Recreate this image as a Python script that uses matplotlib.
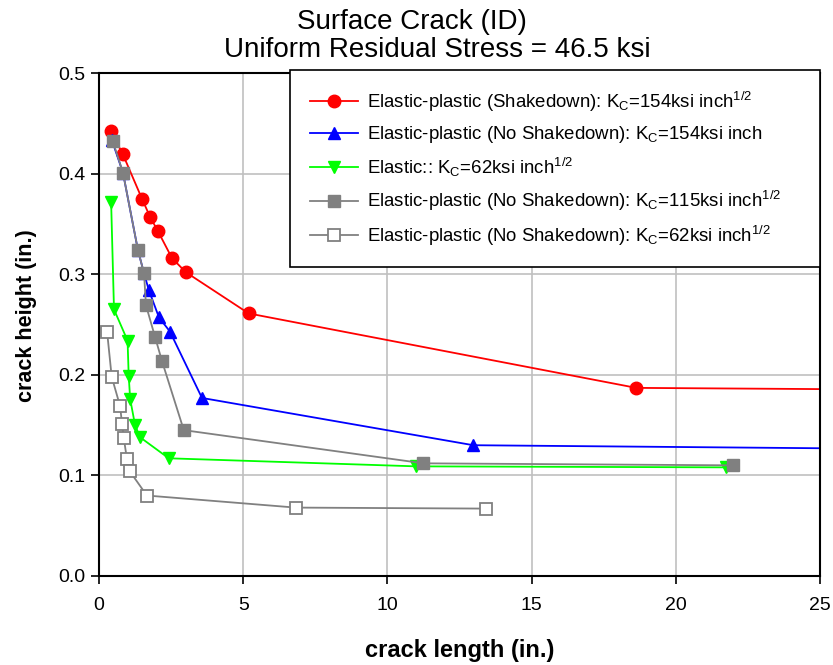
import matplotlib
matplotlib.use('Agg')
import matplotlib.pyplot as plt

plt.rcParams['font.family'] = ['Liberation Sans', 'DejaVu Sans']
plt.rcParams['mathtext.fontset'] = 'custom'
plt.rcParams['mathtext.rm'] = 'Liberation Sans'
plt.rcParams['mathtext.it'] = 'Liberation Sans'

# crack length (in.) / crack height (in.) per series
red_x = [0.42, 0.83, 1.49, 1.77, 2.04, 2.53, 3.01, 5.19, 18.63, 45.0]
red_y = [0.442, 0.419, 0.375, 0.357, 0.343, 0.316, 0.302, 0.261, 0.187, 0.182]

blue_x = [0.45, 0.83, 1.35, 1.56, 1.73, 2.08, 2.46, 3.57, 12.98, 45.0]
blue_y = [0.433, 0.401, 0.324, 0.301, 0.284, 0.257, 0.243, 0.177, 0.130, 0.122]

green_x = [0.42, 0.52, 0.99, 1.03, 1.08, 1.25, 1.42, 2.42, 10.98, 21.75]
green_y = [0.372, 0.265, 0.234, 0.199, 0.176, 0.150, 0.138, 0.117, 0.109, 0.108]

gray_x = [0.48, 0.83, 1.35, 1.56, 1.63, 1.94, 2.18, 2.94, 11.25, 22.0]
gray_y = [0.432, 0.401, 0.324, 0.301, 0.269, 0.238, 0.214, 0.145, 0.112, 0.110]

white_x = [0.28, 0.44, 0.73, 0.80, 0.86, 0.97, 1.07, 1.66, 6.82, 13.43]
white_y = [0.243, 0.198, 0.169, 0.151, 0.137, 0.116, 0.104, 0.080, 0.068, 0.067]

labels = [
    r'Elastic-plastic (Shakedown): K$_\mathrm{C}$=154ksi inch$^{1/2}$',
    r'Elastic-plastic (No Shakedown): K$_\mathrm{C}$=154ksi inch',
    r'Elastic:: K$_\mathrm{C}$=62ksi inch$^{1/2}$',
    r'Elastic-plastic (No Shakedown): K$_\mathrm{C}$=115ksi inch$^{1/2}$',
    r'Elastic-plastic (No Shakedown): K$_\mathrm{C}$=62ksi inch$^{1/2}$',
]

W, H = 833, 665
fig = plt.figure(figsize=(W / 100, H / 100), dpi=100)
ax = fig.add_axes([99 / W, 1 - 576 / H, 721 / W, 503 / H])

ax.plot(red_x, red_y, color='#ff0000', marker='o', markersize=9, lw=1.3, label=labels[0])
ax.plot(blue_x, blue_y, color='#0000ff', marker='^', markersize=9, lw=1.3, label=labels[1])
ax.plot(green_x, green_y, color='#00ff00', marker='v', markersize=9, lw=1.3, label=labels[2])
ax.plot(gray_x, gray_y, color='#808080', marker='s', markersize=8, lw=1.3, label=labels[3])
ax.plot(white_x, white_y, color='#808080', marker='s', markersize=8, lw=1.3,
        markerfacecolor='white', markeredgecolor='#808080', markeredgewidth=1.3, label=labels[4])

ax.set_xlim(0, 25)
ax.set_ylim(0, 0.5)
ax.set_xticks([0, 5, 10, 15, 20, 25])
ax.set_yticks([0.0, 0.1, 0.2, 0.3, 0.4, 0.5])
ax.set_yticklabels(['0.0', '0.1', '0.2', '0.3', '0.4', '0.5'])
ax.grid(True, color='#c0c0c0', lw=1.2)
ax.set_axisbelow(True)
ax.tick_params(direction='out', length=6, width=1.2, labelsize=14)
ax.tick_params(axis='x', pad=9)
for sp in ax.spines.values():
    sp.set_linewidth(1.5)
    sp.set_color('black')

ax.set_xlabel('crack length (in.)', fontsize=17, fontweight='bold', labelpad=18)
ax.set_ylabel('crack height (in.)', fontsize=15.5, fontweight='bold')
ax.yaxis.set_label_coords(-62 / 721, (576 - 316) / 503)

fig.text(412 / W, 1 - 29 / H, 'Surface Crack (ID)', fontsize=20, ha='center', va='baseline')
fig.text(437 / W, 1 - 57 / H, 'Uniform Residual Stress = 46.5 ksi', fontsize=20,
         ha='center', va='baseline')

leg = ax.legend(loc='upper left', mode='expand',
                bbox_to_anchor=(290 / W, 1 - 266 / H, 530 / W, 196 / H),
                bbox_transform=fig.transFigure,
                fontsize=13.4, frameon=True, fancybox=False, framealpha=1, edgecolor='black',
                handlelength=2.6, borderpad=1.05, labelspacing=0.56, handletextpad=0.5,
                borderaxespad=0)
leg.get_frame().set_linewidth(1.2)

fig.savefig('out.png', dpi=100)
